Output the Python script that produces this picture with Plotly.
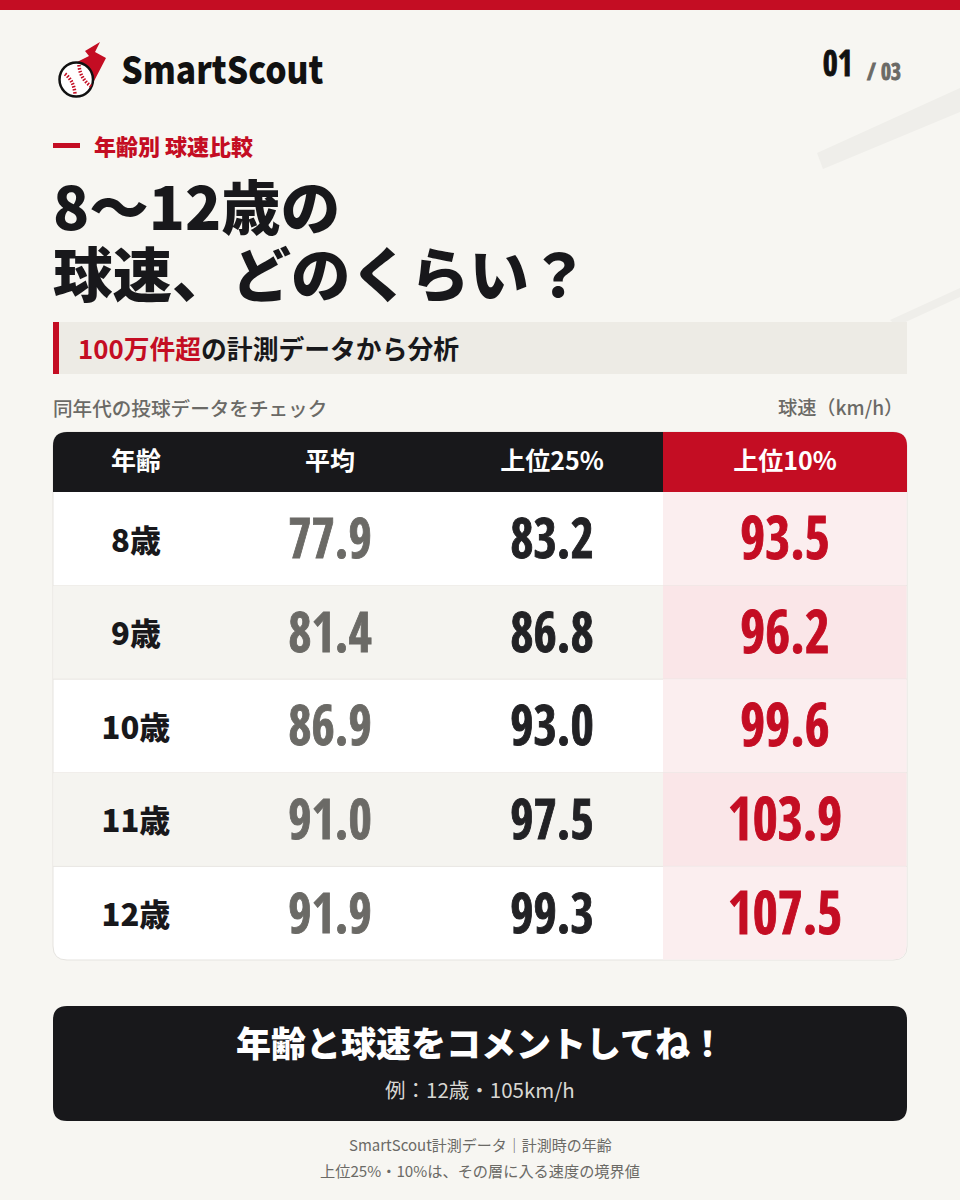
import plotly.graph_objects as go

ages = ["8歳", "9歳", "10歳", "11歳", "12歳"]
columns = ["年齢", "平均", "上位25%", "上位10%"]
avg = [77.9, 81.4, 86.9, 91.0, 91.9]
top25 = [83.2, 86.8, 93.0, 97.5, 99.3]
top10 = [93.5, 96.2, 99.6, 103.9, 107.5]

RED = "#c40d23"
DARK = "#18181b"
GRAY = "#6b6a66"
BG = "#f7f6f2"
JP = "Noto Sans CJK JP"
NUM = "Open Sans Condensed"

# table geometry, page pixels
col_x = [136, 330, 552, 785]
tbl_l, tbl_r, split = 53, 907, 663
head_t, head_b, tbl_b = 432, 492, 960
row_h = (tbl_b - head_b) / len(ages)
row_y = [head_b + row_h * (i + 0.5) for i in range(len(ages))]

shapes = []


def rect(x0, y0, x1, y1, color):
    shapes.append(dict(type="rect", x0=x0, y0=y0, x1=x1, y1=y1, fillcolor=color, line_width=0, layer="below"))


def poly(path, color, line=None, width=0):
    shapes.append(dict(type="path", path=path, fillcolor=color, line=dict(color=line or color, width=width), layer="below"))


def rounded(x0, y0, x1, y1, r, tl=True, tr=True, bl=True, br=True):
    p = f"M{x0 + (r if tl else 0)},{y0} L{x1 - (r if tr else 0)},{y0} "
    p += f"Q{x1},{y0} {x1},{y0 + r} " if tr else ""
    p += f"L{x1},{y1 - (r if br else 0)} "
    p += f"Q{x1},{y1} {x1 - r},{y1} " if br else ""
    p += f"L{x0 + (r if bl else 0)},{y1} "
    p += f"Q{x0},{y1} {x0},{y1 - r} " if bl else ""
    p += f"L{x0},{y0 + (r if tl else 0)} "
    p += f"Q{x0},{y0} {x0 + r},{y0} " if tl else ""
    return p + "Z"


# page furniture
rect(0, 0, 960, 10, RED)
poly("M817,153 L960,88 L960,112 L823,169 Z", "#efeeea")
poly("M890,320 L960,288 L960,297 L897,326 Z", "#efeeea")
rect(53, 322, 907, 374, "#edebe5")
rect(53, 322, 59, 374, RED)
rect(53, 143, 80, 148, RED)

# logo
poly("M100,42 L85,51 L89,56 L77,62 L92,85 L106,58 L95,52 Z", RED)
shapes.append(dict(type="circle", x0=59.5, y0=62.5, x1=93, y1=96.5, fillcolor="white", line=dict(color="#111111", width=2.5), layer="below"))
for p in ["M65,74 Q74,81 75,94", "M79,65 Q80,79 92,87"]:
    shapes.append(dict(type="path", path=p, line=dict(color=RED, width=3.5, dash="1.5px,1.5px"), layer="below"))

# table body
poly(rounded(tbl_l, head_t, tbl_r, tbl_b, 14), "white", "#e5e3df", 1)
for i in range(len(ages)):
    y0, y1 = head_b + row_h * i, head_b + row_h * (i + 1)
    last = i == len(ages) - 1
    if i % 2:
        rect(tbl_l + 0.5, y0, split, y1, "#f5f4f0")
    tint = "#fae6e8" if i % 2 else "#fbeeef"
    if last:
        poly(rounded(split, y0, tbl_r - 0.5, y1 - 0.5, 14, tl=False, tr=False, bl=False), tint)
    else:
        rect(split, y0, tbl_r - 0.5, y1, tint)
    if not last:
        shapes.append(dict(type="line", x0=tbl_l, x1=tbl_r, y0=y1, y1=y1, line=dict(color="#e8e6e2", width=1), layer="below"))

# table header
poly(rounded(tbl_l, head_t, split, head_b, 14, tr=False, bl=False, br=False), DARK)
poly(rounded(split, head_t, tbl_r, head_b, 14, tl=False, bl=False, br=False), RED)

# call to action box
poly(rounded(tbl_l, 1006, tbl_r, 1121, 14), DARK)

fig = go.Figure()
fig.add_trace(go.Scatter(x=[col_x[0]] * len(ages), y=[y + 5 for y in row_y], text=ages, mode="text",
                         textfont=dict(family=JP, size=31, color=DARK, weight=900)))
for x, vals, color, size in [(col_x[1], avg, GRAY, 56), (col_x[2], top25, "#222225", 56), (col_x[3], top10, RED, 60)]:
    fig.add_trace(go.Scatter(x=[x] * len(vals), y=[y + 5.5 for y in row_y], text=[f"{v:.1f}" for v in vals], mode="text",
                             textfont=dict(family=NUM, size=size, color=color, weight=700)))
fig.add_trace(go.Scatter(x=col_x, y=[(head_t + head_b) / 2 + 2] * len(columns), text=columns, mode="text",
                         textfont=dict(family=JP, size=25, color="white", weight=700)))

annotations = []


def label(x, y, text, size, color, weight=400, anchor="center", family=JP):
    annotations.append(dict(x=x, y=y, text=text, xref="x", yref="y", showarrow=False, xanchor=anchor, yanchor="middle",
                            font=dict(family=family, size=size, color=color, weight=weight)))


label(106, 67, "SmartScout", 38, "#111111", 900, "left")
label(819, 62, "01", 36, "#111111", 700, "left", NUM)
label(863, 70, "/ 03", 24, GRAY, 700, "left", NUM)
label(92, 145, "年齢別 球速比較", 22, RED, 900, "left")
label(51, 204, "8〜12歳の", 59.5, DARK, 900, "left")
label(51, 271, "球速、どのくらい？", 59.5, DARK, 900, "left")
label(76, 347, f'<span style="color:{RED}">100万件超</span>の計測データから分析', 25.8, DARK, 700, "left")
label(51, 407, "同年代の投球データをチェック", 19.6, GRAY, 500, "left")
label(905, 407, "球速（km/h）", 19.2, GRAY, 500, "right")
label(480, 1041, "年齢と球速をコメントしてね！", 35, "white", 900)
label(480, 1089, "例：12歳・105km/h", 20.5, "#d8d7d3", 400)
label(480, 1144, "SmartScout計測データ｜計測時の年齢", 15, GRAY, 400)
label(480, 1170, "上位25%・10%は、その層に入る速度の境界値", 15.2, GRAY, 400)

fig.update_layout(
    width=960, height=1200, margin=dict(l=0, r=0, t=0, b=0),
    paper_bgcolor=BG, plot_bgcolor=BG, showlegend=False,
    xaxis=dict(range=[0, 960], visible=False, fixedrange=True),
    yaxis=dict(range=[1200, 0], visible=False, fixedrange=True),
    shapes=shapes, annotations=annotations,
)

# no body margin, and squeeze the numbers a bit: no really condensed bold font here
post = """
document.body.style.margin = '0';
document.querySelectorAll('svg text').forEach(function (el) {
  var s = 0;
  if (el.style.fontFamily.indexOf('Open Sans Condensed') >= 0) s = 0.9;
  if (el.textContent === 'SmartScout') s = 0.885;
  if (!s) return;
  var x = parseFloat(el.getAttribute('x')) || 0;
  var t = el.getAttribute('transform') || '';
  el.setAttribute('transform', 'translate(' + x * (1 - s) + ',0) scale(' + s + ',1) ' + t);
  if (s === 0.9) { el.style.stroke = el.style.fill; el.style.strokeWidth = '0.9px'; }
});
"""
fig.write_html("out.html", config=dict(displayModeBar=False), post_script=post)
